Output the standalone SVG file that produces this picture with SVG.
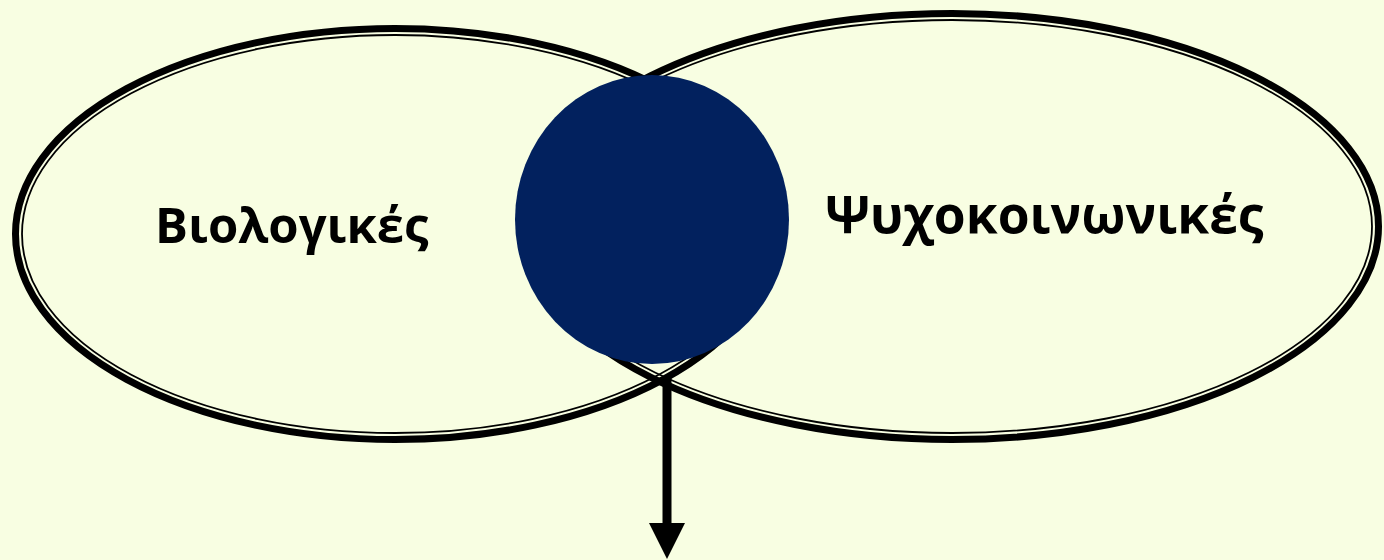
<svg xmlns="http://www.w3.org/2000/svg" width="1384" height="560" viewBox="0 0 1384 560">
<style>
.thick{fill:none;stroke:#000;stroke-width:7}
.thin{fill:none;stroke:#000;stroke-width:1.8}
.lbl{font-family:"Open Sans","Noto Sans","DejaVu Sans",sans-serif;font-weight:700;fill:#000}
</style>
<defs>
<marker id="arr" markerUnits="userSpaceOnUse" markerWidth="38" markerHeight="38" refX="0" refY="18" orient="auto" viewBox="0 0 38 36">
<path d="M0,0 L36,18 L0,36 Z" fill="#000"/>
</marker>
</defs>
<rect width="1384" height="560" fill="#F8FEE2"/>
<g id="left-set">
<ellipse class="thick" cx="395" cy="234" rx="379.5" ry="205.5"/>
<ellipse class="thin" cx="395" cy="234" rx="373" ry="199"/>
</g>
<g id="right-set">
<ellipse class="thick" cx="952" cy="226.5" rx="426.5" ry="213"/>
<ellipse class="thin" cx="952" cy="226.5" rx="420" ry="206.5"/>
</g>
<g id="connectors">
<line x1="667" y1="378" x2="667" y2="523" stroke="#000" stroke-width="9" marker-end="url(#arr)"/>
</g>
<g id="intersection">
<ellipse cx="652" cy="219.5" rx="137" ry="144.5" fill="#02215E"/>
</g>
<g id="label-bio">
<text class="lbl" x="155" y="243" font-size="49">Βιολογικές</text>
</g>
<g id="label-psy">
<text class="lbl" x="825" y="233" font-size="51.5">Ψυχοκοινωνικές</text>
</g>
</svg>
